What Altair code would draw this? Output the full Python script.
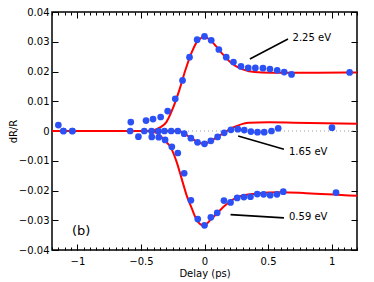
import altair as alt
import pandas as pd

# ---- measured data points ----
x_225 = [-1.15, -1.11, -1.04, -0.58, -0.46, -0.405, -0.345, -0.29, -0.23, -0.173, -0.118, -0.058,
         0.0, 0.053, 0.113, 0.171, 0.228, 0.287, 0.344, 0.40, 0.46, 0.515, 0.572, 0.627, 0.685, 1.142]
y_225 = [0.002, 0.0, 0.0, 0.003, 0.0035, 0.0040, 0.0047, 0.0067, 0.0108, 0.017, 0.0248, 0.0307,
         0.0318, 0.0305, 0.0274, 0.0248, 0.0232, 0.0217, 0.0212, 0.0212, 0.0211, 0.0208, 0.0204, 0.0198, 0.019, 0.0197]

x_165 = [-1.11, -1.04, -0.585, -0.474, -0.417, -0.362, -0.315, -0.262, -0.21, -0.16, -0.107, -0.055,
         0.0, 0.05, 0.103, 0.155, 0.208, 0.262, 0.313, 0.365, 0.417, 0.47, 0.527, 0.58, 1.003]
y_165 = [0.0, 0.0, 0.0, 0.0, 0.0, 0.0, 0.0, 0.0, 0.0, -0.0009, -0.0024, -0.0038,
         -0.0043, -0.0033, -0.002, -0.0006, 0.0004, 0.0006, 0.0003, -0.0002, -0.0004, -0.0004, 0.0, 0.0009, 0.0011]

x_059 = [-0.52, -0.415, -0.36, -0.31, -0.257, -0.21, -0.16, -0.107, -0.053, 0.0, 0.05, 0.1,
         0.153, 0.205, 0.257, 0.31, 0.362, 0.415, 0.465, 0.517, 0.57, 0.62, 1.035]
y_059 = [-0.0019, -0.002, -0.0021, -0.003, -0.0053, -0.0074, -0.0142, -0.0233, -0.0296, -0.0317, -0.029, -0.0275,
         -0.0234, -0.024, -0.0225, -0.0222, -0.0221, -0.0212, -0.0213, -0.0216, -0.0213, -0.0204, -0.0207]

# ---- fitted curves ----
fx_225 = [-1.2, -0.45, -0.4, -0.35, -0.3, -0.25, -0.2, -0.15, -0.1, -0.05, 0.0, 0.05, 0.1, 0.15,
          0.2, 0.25, 0.3, 0.35, 0.45, 0.6, 0.9, 1.2]
fy_225 = [0.0, 0.0, 0.0003, 0.0012, 0.003, 0.0075, 0.0135, 0.0205, 0.0265, 0.0305, 0.0316, 0.0304,
          0.028, 0.0255, 0.0233, 0.0217, 0.0207, 0.0201, 0.0197, 0.0196, 0.0196, 0.0197]

fx_165 = [-1.2, -0.2, -0.16, -0.107, -0.055, 0.0, 0.05, 0.1, 0.155, 0.2, 0.25, 0.3, 0.35, 0.5, 0.7, 1.2]
fy_165 = [0.0, 0.0, -0.0008, -0.0024, -0.0037, -0.0043, -0.0034, -0.002, -0.0006, 0.0006, 0.0016,
          0.0024, 0.0028, 0.0029, 0.0028, 0.0024]

fx_059 = [-1.2, -0.45, -0.4, -0.35, -0.32, -0.26, -0.22, -0.18, -0.14, -0.1, -0.06, -0.02, 0.0,
          0.05, 0.1, 0.15, 0.2, 0.25, 0.3, 0.4, 0.6, 0.8, 1.2]
fy_059 = [0.0, 0.0, -0.0003, -0.0015, -0.0028, -0.006, -0.0103, -0.016, -0.0217, -0.026, -0.030,
          -0.0316, -0.0317, -0.0297, -0.0276, -0.0255, -0.0237, -0.0225, -0.0217, -0.0211, -0.0206,
          -0.0209, -0.0218]

# ---- annotations ----
ann_text = ["2.25 eV", "1.65 eV", "0.59 eV"]
ann_tx = [0.693, 0.665, 0.665]
ann_ty = [0.0313, -0.0070, -0.0290]
ann_x1 = [0.357, 0.265, 0.205]
ann_y1 = [0.0242, -0.0017, -0.0281]
ann_x2 = [0.657, 0.625, 0.625]
ann_y2 = [0.0309, -0.0061, -0.0292]

panel_label = "(b)"
panel_x = [-1.043]
panel_y = [-0.0337]

x_major = [-1, -0.5, 0, 0.5, 1]
y_major = [-0.04, -0.03, -0.02, -0.01, 0, 0.01, 0.02, 0.03, 0.04]
x_minor = [round(-1.2 + 0.05 * i, 2) for i in range(49)]

W, H = 305, 238
FONT = "DejaVu Sans"
BLUE = "#2a50f6"
RED = "#ff0000"

xs = alt.Scale(domain=[-1.2, 1.2], nice=False, zero=False)
ys = alt.Scale(domain=[-0.04, 0.04], nice=False, zero=False)

pts = pd.concat([
    pd.DataFrame({"x": x_225, "y": y_225, "s": "2.25"}),
    pd.DataFrame({"x": x_165, "y": y_165, "s": "1.65"}),
    pd.DataFrame({"x": x_059, "y": y_059, "s": "0.59"}),
])
fits = pd.concat([
    pd.DataFrame({"x": fx_225, "y": fy_225, "s": "2.25"}),
    pd.DataFrame({"x": fx_165, "y": fy_165, "s": "1.65"}),
    pd.DataFrame({"x": fx_059, "y": fy_059, "s": "0.59"}),
])
ann = pd.DataFrame({"t": ann_text, "tx": ann_tx, "ty": ann_ty,
                    "x1": ann_x1, "y1": ann_y1, "x2": ann_x2, "y2": ann_y2})
panel = pd.DataFrame({"t": [panel_label], "x": panel_x, "y": panel_y})
zero = pd.DataFrame({"y": [0.0]})

base_x_axis = alt.Axis(values=x_major, format="~g", ticks=False, domain=False, grid=False,
                       labelFont=FONT, labelFontSize=10, labelColor="black", labelPadding=6,
                       title="Delay (ps)", titleFont=FONT, titleFontSize=10, titleFontWeight="normal",
                       titleColor="black", titleBaseline="middle", titleY=23)
base_y_axis = alt.Axis(values=y_major, format="~g", ticks=False, domain=False, grid=False,
                       labelFont=FONT, labelFontSize=10, labelColor="black", labelPadding=3,
                       title="dR/R", titleFont=FONT, titleFontSize=10, titleFontWeight="normal",
                       titleColor="black", titleX=-36, titleBaseline="alphabetic")

zero_rule = alt.Chart(zero).mark_rule(color="#999999", strokeDash=[1, 3], strokeWidth=1).encode(
    y=alt.Y("y:Q", scale=ys, axis=base_y_axis)
)

fit_lines = alt.Chart(fits).mark_line(color=RED, strokeWidth=2, interpolate="monotone").encode(
    x=alt.X("x:Q", scale=xs, axis=base_x_axis),
    y=alt.Y("y:Q", scale=ys, axis=None),
    detail="s:N",
)

points = alt.Chart(pts).mark_circle(color=BLUE, size=45, opacity=1).encode(
    x=alt.X("x:Q", scale=xs, axis=None),
    y=alt.Y("y:Q", scale=ys, axis=None),
)

ann_lines = alt.Chart(ann).mark_rule(color="black", strokeWidth=1.6).encode(
    x=alt.X("x1:Q", scale=xs, axis=None), x2="x2:Q",
    y=alt.Y("y1:Q", scale=ys, axis=None), y2="y2:Q",
)

ann_labels = alt.Chart(ann).mark_text(align="left", baseline="middle", font=FONT, fontSize=10,
                                      color="black").encode(
    x=alt.X("tx:Q", scale=xs, axis=None),
    y=alt.Y("ty:Q", scale=ys, axis=None),
    text="t:N",
)

panel_text = alt.Chart(panel).mark_text(align="left", baseline="middle", font=FONT, fontSize=13,
                                        color="black").encode(
    x=alt.X("x:Q", scale=xs, axis=None),
    y=alt.Y("y:Q", scale=ys, axis=None),
    text="t:N",
)


def tick_layer(x_orient, x_vals, x_size, y_orient=None, y_vals=None, y_size=6):
    xa = alt.Axis(orient=x_orient, offset=-H, values=x_vals, tickSize=x_size, labels=False,
                  domain=False, grid=False, title=None, tickColor="black", tickWidth=1)
    if y_orient is None:
        ya = None
    else:
        ya = alt.Axis(orient=y_orient, offset=-W, values=y_vals, tickSize=y_size, labels=False,
                      domain=False, grid=False, title=None, tickColor="black", tickWidth=1)
    return alt.Chart(zero).mark_point(opacity=0).encode(
        x=alt.X("y:Q", scale=xs, axis=xa),
        y=alt.Y("y:Q", scale=ys, axis=ya),
    )


t1 = tick_layer("top", x_major, 6, "right", y_major, 6)
t2 = tick_layer("bottom", x_major, 6, "left", y_major, 6)
t3 = tick_layer("top", x_minor, 3)
t4 = tick_layer("bottom", x_minor, 3)

chart = alt.layer(
    zero_rule, fit_lines, points, ann_lines, ann_labels, panel_text, t1, t2, t3, t4
).resolve_scale(x="independent", y="independent").properties(
    width=W, height=H,
    autosize=alt.AutoSizeParams(type="none"),
    padding={"left": 44, "top": 4, "right": 9, "bottom": 32},
).configure_view(stroke="black", strokeWidth=1.5)

chart.save("out.html", embed_options={"renderer": "svg", "actions": False})
